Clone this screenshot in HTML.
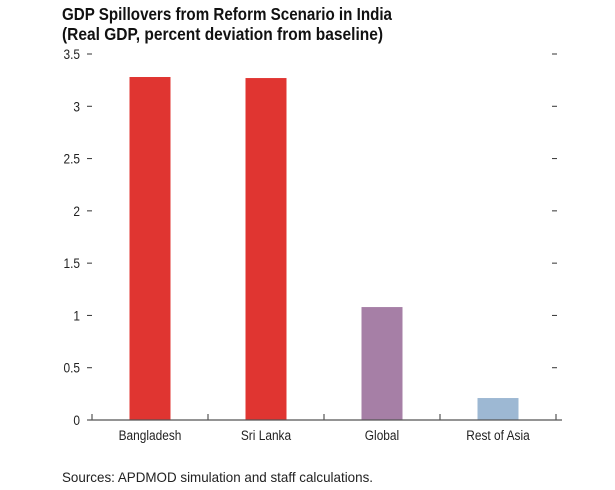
<!DOCTYPE html>
<html><head><meta charset="utf-8"><style>
body{margin:0;background:#fff;}
svg{display:block;font-family:"Liberation Sans Narrow","Liberation Sans",sans-serif;}
</style></head><body>
<svg id="chart" width="615" height="490">
<text x="62" y="20" font-size="17.5" font-weight="bold" fill="#111" textLength="330" lengthAdjust="spacingAndGlyphs">GDP Spillovers from Reform Scenario in India</text>
<text x="62" y="40" font-size="17.5" font-weight="bold" fill="#111" textLength="321" lengthAdjust="spacingAndGlyphs">(Real GDP, percent deviation from baseline)</text>
<text x="62" y="482" font-size="14" fill="#222" textLength="311" lengthAdjust="spacingAndGlyphs">Sources: APDMOD simulation and staff calculations.</text>
<g id="g"></g>
</svg>
<script>
const categories=["Bangladesh","Sri Lanka","Global","Rest of Asia"];
const values=[3.28,3.27,1.08,0.21];
const colors=["#e03531","#e03531","#a67fa6","#9db8d3"];
const yTicks=[0,0.5,1,1.5,2,2.5,3,3.5];
const yTickLabels=["0","0.5","1","1.5","2","2.5","3","3.5"];
const NS="http://www.w3.org/2000/svg";
const g=document.getElementById('g');
const x0=92,x1=556,y0=420,yTop=54,yMax=3.5;
const bw=(x1-x0)/categories.length;
function y(v){return y0-(v/yMax)*(y0-yTop);}
function xc(i){return x0+bw*(i+0.5);}
function mk(t,a){const e=document.createElementNS(NS,t);for(const k in a)e.setAttribute(k,a[k]);g.appendChild(e);return e;}
yTicks.forEach((v,i)=>{
  const l=mk('line',{x1:87,x2:92,y1:y(v),y2:y(v),stroke:'#333','stroke-width':1});
  
  
  const r=mk('line',{x1:552,x2:557,y1:y(v),y2:y(v),stroke:'#333','stroke-width':1});
  
  
  const t=mk('text',{x:80,y:y(v)+5,'font-size':14,'text-anchor':'end',fill:'#222',transform:'translate(80 0) scale(0.85 1) translate(-80 0)'});
  t.textContent=yTickLabels[i];
  
  
});
categories.forEach((c,i)=>{
  const b=mk('rect',{x:xc(i)-20.5,y:y(values[i]),width:41,height:y0-y(values[i]),fill:colors[i]});
  
  
  const cx=xc(i);
  const t=mk('text',{x:cx,y:y0+20,'font-size':14,'text-anchor':'middle',fill:'#222',transform:'translate('+cx+' 0) scale(0.85 1) translate('+(-cx)+' 0)'});
  t.textContent=c;
  
  
});
for(let i=0;i<=categories.length;i++){
  const tk=mk('line',{x1:x0+bw*i,x2:x0+bw*i,y1:y0,y2:y0-6,stroke:'#333','stroke-width':1});
  
  
}
const ax=mk('line',{x1:x0-3,x2:x1+6,y1:y0,y2:y0,stroke:'#555','stroke-width':1.3});


</script>
</body></html>
